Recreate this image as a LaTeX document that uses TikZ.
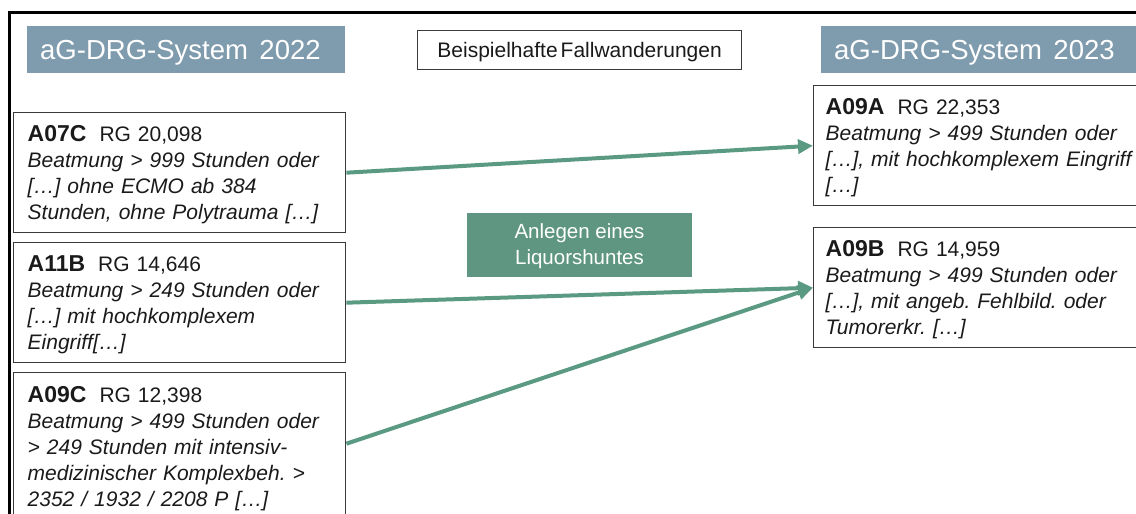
\documentclass[tikz,border=0pt]{standalone}
\usepackage{fontspec}
\setmainfont{Liberation Sans}
\usetikzlibrary{arrows.meta}
\definecolor{hdrblue}{HTML}{7F9BAE}
\definecolor{shuntgreen}{HTML}{5E9681}
\definecolor{flowgreen}{HTML}{5A9A82}
\definecolor{boxline}{HTML}{3A3A3A}
\definecolor{ink}{HTML}{1A1A1A}
\frenchspacing
% struts that fix the first baseline and the last depth of every case box
\newcommand{\firststrut}{\rule{0pt}{20.5pt}}
\newcommand{\laststrut}{\rule[-5pt]{0pt}{5pt}}
\newcommand{\casehead}[2]{\firststrut{\fontsize{23}{26}\selectfont\bfseries #1}\hspace{13pt}#2}

\begin{document}
\begin{tikzpicture}[x=1pt,y=-1pt,
  hdr/.style={fill=hdrblue, text=white, anchor=north west, inner xsep=13pt, inner ysep=0pt,
    minimum height=47pt, text width=#1, align=left, text height=20pt, text depth=0pt,
    font=\fontsize{27.5}{30}\selectfont},
  titlebox/.style={draw=boxline, line width=1.3pt, anchor=north west, minimum width=324pt,
    minimum height=39pt, inner sep=0pt, text height=15.5pt, text depth=0pt,
    font=\fontsize{21}{24}\selectfont, text=ink},
  casebox/.style={draw=boxline, line width=1.4pt, anchor=north west, inner ysep=0pt,
    align=left, text=ink, font=\fontsize{21}{26}\selectfont},
  leftcase/.style={casebox, inner xsep=14pt, text width=304pt},
  rightcase/.style={casebox, inner xsep=12pt, text width=323pt},
  shunt/.style={fill=shuntgreen, text=white, minimum width=225pt, minimum height=64pt,
    inner sep=0pt, align=center, font=\fontsize{20.5}{26}\selectfont},
  flow/.style={draw=flowgreen, line width=4pt, -{Triangle[length=15pt,width=14pt]}}
]
\useasboundingbox (0,0) rectangle (1136,514);
\clip (0,0) rectangle (1136,514);

% outer frame
\draw[line width=2.8pt] (9.5,12.5) rectangle (1160,540);

% column headers and title
\node[hdr=292pt] (hdrold) at (27,26) {aG-DRG-System\hspace{11.5pt}2022};
\node[hdr=306pt] (hdrnew) at (821,26) {aG-DRG-System\hspace{11.5pt}2023};
\node[titlebox] (title) at (417,30) {Beispielhafte\hspace{3pt}Fallwanderungen};

% DRGs of the 2022 system
\node[leftcase, minimum height=120pt] (a07c) at (13,112)
  {\casehead{A07C}{RG 20,098}\\
   \textit{Beatmung > 999 Stunden oder}\\
   \textit{[…] ohne ECMO ab 384}\\
   \textit{Stunden, ohne Polytrauma […]}\laststrut};
\node[leftcase, minimum height=120pt] (a11b) at (13,242)
  {\casehead{A11B}{RG 14,646}\\
   \textit{Beatmung > 249 Stunden oder}\\
   \textit{[…] mit hochkomplexem}\\
   \textit{Eingriff[…]}\laststrut};
\node[leftcase, minimum height=148pt] (a09c) at (13,372)
  {\casehead{A09C}{RG 12,398}\\
   \textit{Beatmung > 499 Stunden oder}\\
   \textit{> 249 Stunden mit intensiv-}\\
   \textit{medizinischer Komplexbeh. >}\\
   \textit{2352 / 1932 / 2208 P […]}\laststrut};

% DRGs of the 2023 system
\node[rightcase, minimum height=120pt] (a09a) at (813,85)
  {\casehead{A09A}{RG 22,353}\\
   \textit{Beatmung > 499 Stunden oder}\\
   \textit{[…], mit hochkomplexem Eingriff}\\
   \textit{[…]}\laststrut};
\node[rightcase, minimum height=120pt] (a09b) at (813,227)
  {\casehead{A09B}{RG 14,959}\\
   \textit{Beatmung > 499 Stunden oder}\\
   \textit{[…], mit angeb. Fehlbild. oder}\\
   \textit{Tumorerkr. […]}\laststrut};

% procedure label
\node[shunt] (shunt) at (579.5,245) {\rule{0pt}{16.5pt}Anlegen eines\\Liquorshuntes};

% case migrations
\draw[flow] (a07c.east) -- (a09a.west);
\draw[flow] (a11b.east) -- (a09b.west);
\draw[flow] ([yshift=3pt]a09c.east) -- (a09b.west);
\end{tikzpicture}
\end{document}
